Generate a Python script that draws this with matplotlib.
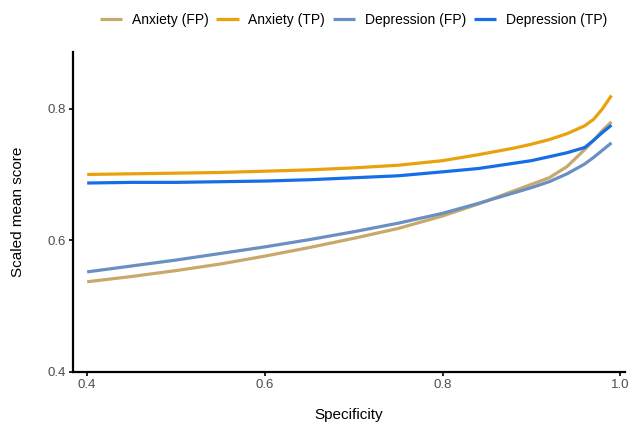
import numpy as np
import matplotlib
matplotlib.use("Agg")
from matplotlib import pyplot as plt

plt.rcParams['font.family'] = ['Liberation Sans', 'DejaVu Sans']

specificity = [0.40, 0.45, 0.50, 0.55, 0.60, 0.65, 0.70, 0.75, 0.80, 0.84,
               0.88, 0.90, 0.92, 0.94, 0.96, 0.97, 0.98, 0.99]
anxiety_fp = [0.537, 0.545, 0.554, 0.564, 0.576, 0.589, 0.603, 0.618, 0.637, 0.655,
              0.675, 0.685, 0.695, 0.712, 0.738, 0.752, 0.767, 0.780]
anxiety_tp = [0.700, 0.701, 0.702, 0.703, 0.705, 0.707, 0.710, 0.714, 0.721, 0.730,
              0.740, 0.746, 0.753, 0.762, 0.774, 0.784, 0.800, 0.820]
depression_fp = [0.552, 0.561, 0.570, 0.580, 0.590, 0.601, 0.613, 0.626, 0.641, 0.656,
                 0.672, 0.680, 0.689, 0.701, 0.716, 0.726, 0.737, 0.748]
depression_tp = [0.687, 0.688, 0.688, 0.689, 0.690, 0.692, 0.695, 0.698, 0.704, 0.709,
                 0.717, 0.721, 0.727, 0.733, 0.741, 0.752, 0.764, 0.775]

series = [
    ("Anxiety (FP)", anxiety_fp, "#C8A96B"),
    ("Anxiety (TP)", anxiety_tp, "#E9A20E"),
    ("Depression (FP)", depression_fp, "#6A8FC2"),
    ("Depression (TP)", depression_tp, "#176DE6"),
]

fig = plt.figure(figsize=(6.29, 4.30), dpi=100)
ax = fig.add_axes([0.116, 0.135, 0.878, 0.744])

for label, vals, col in series:
    ax.plot(specificity, vals, color=col, lw=2.3, label=label, solid_capstyle="butt")

ax.set_xlim(0.384, 1.0055)
ax.set_ylim(0.4, 0.886)
ax.set_xticks([0.4, 0.6, 0.8, 1.0])
ax.set_xticklabels(["0.4", "0.6", "0.8", "1.0"])
ax.set_yticks([0.4, 0.6, 0.8])
ax.set_yticklabels(["0.4", "0.6", "0.8"])

for side in ["top", "right"]:
    ax.spines[side].set_visible(False)
for side in ["left", "bottom"]:
    ax.spines[side].set_linewidth(1.6)
    ax.spines[side].set_color("black")

ax.tick_params(axis="both", length=3, width=1.2, color="black",
               labelsize=9.5, labelcolor="#4D4D4D", pad=2)

ax.set_xlabel("Specificity", fontsize=11, labelpad=12)
ax.set_ylabel("Scaled mean score", fontsize=11, labelpad=16)

fig.legend(loc="center", bbox_to_anchor=(0.562, 0.953), ncol=4, frameon=False,
           fontsize=10, handlelength=1.6, handletextpad=0.7,
           columnspacing=0.55)

fig.savefig("out.png", dpi=100)
